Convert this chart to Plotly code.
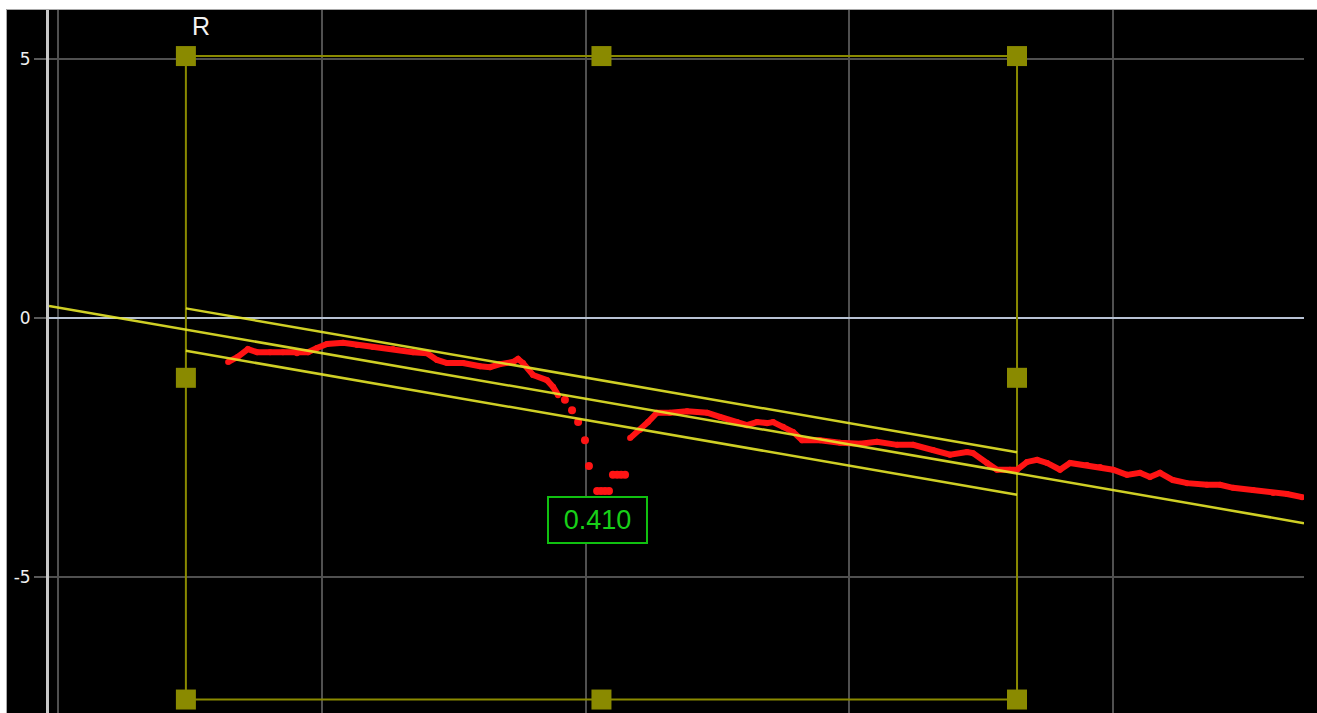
import plotly.graph_objects as go

# Measured signal: two continuous runs with a dropout between them
run1_x = [6.45, 6.82, 7.20, 7.55, 8.04, 8.53, 9.06, 9.48, 9.82, 10.20, 10.81, 11.34,
          11.94, 12.70, 13.46, 13.99, 14.37, 14.75, 15.36, 16.00, 16.38, 16.76, 17.25,
          17.44, 17.63, 18.01, 18.54, 18.77, 18.96]
run1_y = [-0.85, -0.75, -0.60, -0.66, -0.66, -0.66, -0.68, -0.66, -0.58, -0.50, -0.48, -0.52,
          -0.56, -0.60, -0.66, -0.68, -0.81, -0.87, -0.87, -0.93, -0.95, -0.89, -0.85,
          -0.79, -0.87, -1.10, -1.20, -1.33, -1.49]

dropout_x = [19.22, 19.49, 19.72, 19.98, 20.13,
             20.44, 20.59, 20.74, 20.89,
             21.04, 21.20, 21.35, 21.50]
dropout_y = [-1.58, -1.78, -2.01, -2.36, -2.86,
             -3.34, -3.34, -3.34, -3.34,
             -3.03, -3.03, -3.03, -3.03]

run2_x = [21.69, 22.07, 22.37, 22.71, 23.20, 23.85, 24.61, 25.10, 25.74, 26.12, 26.50, 26.88,
          27.11, 27.49, 27.87, 28.21, 28.89, 29.65, 30.41, 31.05, 31.81, 32.42, 33.18, 33.82,
          34.46, 34.69, 35.22, 35.60, 36.09, 36.36, 36.74, 37.12, 37.50, 37.99, 38.37, 39.01,
          39.51, 40.00, 40.53, 41.02, 41.40, 41.78, 42.27, 42.81, 43.56, 44.06, 44.55, 45.31,
          46.07, 46.60, 47.17]
run2_y = [-2.32, -2.16, -2.01, -1.83, -1.83, -1.80, -1.83, -1.91, -2.01, -2.07, -2.01, -2.03,
          -2.01, -2.10, -2.20, -2.36, -2.36, -2.41, -2.43, -2.39, -2.45, -2.45, -2.55, -2.64,
          -2.59, -2.61, -2.80, -2.93, -2.93, -2.93, -2.78, -2.74, -2.80, -2.93, -2.80, -2.84,
          -2.88, -2.93, -3.03, -2.99, -3.07, -2.99, -3.13, -3.19, -3.22, -3.22, -3.28, -3.32,
          -3.38, -3.40, -3.46]

# Linear fit and the band around it
fit_intercept = 0.204
fit_slope = -0.0882
band_half_width = 0.410

# Selection window "R"
window_x = [4.85, 36.36]
window_y = [-7.37, 5.06]

readout_text = "0.410"
readout_pos = (20.44, -3.90)

x_range = [-0.34, 47.24]
y_range = [-7.63, 5.95]
x_grid = [0, 10, 20, 30, 40]
y_ticks = [-5, 0, 5]

RED = "#ff1414"
YELLOW = "#e6e62a"
OLIVE = "#8a8a00"


def fit(x, offset=0.0):
    return fit_intercept + fit_slope * x + offset


fig = go.Figure()

# selection window frame
wx0, wx1 = window_x
wy0, wy1 = window_y
fig.add_trace(go.Scatter(
    x=[wx0, wx1, wx1, wx0, wx0], y=[wy1, wy1, wy0, wy0, wy1],
    mode="lines", line=dict(color=OLIVE, width=2), hoverinfo="skip"))

# signal
fig.add_trace(go.Scatter(x=run1_x, y=run1_y, mode="lines+markers",
                         line=dict(color=RED, width=6), marker=dict(color=RED, size=6)))
fig.add_trace(go.Scatter(x=dropout_x, y=dropout_y, mode="markers",
                         marker=dict(color=RED, size=8)))
fig.add_trace(go.Scatter(x=run2_x, y=run2_y, mode="lines+markers",
                         line=dict(color=RED, width=6), marker=dict(color=RED, size=6)))

# fit line across the whole view, band limited to the window
fig.add_trace(go.Scatter(x=x_range, y=[fit(v) for v in x_range], mode="lines",
                         line=dict(color=YELLOW, width=2.5), opacity=0.9))
for sign in (1, -1):
    fig.add_trace(go.Scatter(x=window_x, y=[fit(v, sign * band_half_width) for v in window_x],
                             mode="lines", line=dict(color=YELLOW, width=2.5), opacity=0.9))

# window handles: corners and edge midpoints
xm = (wx0 + wx1) / 2
ym = (wy0 + wy1) / 2
hx = [wx0, xm, wx1, wx0, wx1, wx0, xm, wx1]
hy = [wy1, wy1, wy1, ym, ym, wy0, wy0, wy0]
fig.add_trace(go.Scatter(x=hx, y=hy, mode="markers",
                         marker=dict(symbol="square", size=20, color=OLIVE,
                                     line=dict(width=0))))

fig.add_annotation(x=wx0, y=wy1, text="R", showarrow=False, xanchor="left", yanchor="bottom",
                   xshift=4, yshift=14, font=dict(family="Liberation Sans", size=25, color="#f2f2f2"))

fig.add_annotation(x=readout_pos[0], y=readout_pos[1], text=readout_text, showarrow=False,
                   font=dict(family="Liberation Sans", size=27, color="#18d018"),
                   bgcolor="#000000", bordercolor="#10c010", borderwidth=2, borderpad=0,
                   width=97, height=44)

# framing strips around the chart area
L, T, W, H = 49, 10, 1317, 713
pw, ph = 1304 - L, H - T
px = lambda v: (v - L) / pw
py = lambda v: (H - v) / ph
fig.add_shape(type="rect", xref="paper", yref="paper", x0=px(0), x1=px(W), y0=py(9), y1=py(0),
              fillcolor="white", line=dict(width=0), layer="above")
fig.add_shape(type="rect", xref="paper", yref="paper", x0=px(0), x1=px(6.5), y0=py(H), y1=py(0),
              fillcolor="white", line=dict(width=0), layer="above")
fig.add_shape(type="line", xref="paper", yref="paper", x0=px(6.5), x1=px(W), y0=py(9.5), y1=py(9.5),
              line=dict(color="#a8a8a8", width=1), layer="above")
fig.add_shape(type="line", xref="paper", yref="paper", x0=px(6.5), x1=px(6.5), y0=py(H), y1=py(9.5),
              line=dict(color="#a8a8a8", width=1), layer="above")

fig.update_layout(
    width=W, height=H,
    margin=dict(l=L, r=W - 1304, t=T, b=0),
    paper_bgcolor="#000000", plot_bgcolor="#000000",
    showlegend=False,
    xaxis=dict(range=x_range, tickvals=x_grid, showticklabels=False, showgrid=True,
               gridcolor="#505050", gridwidth=2, zeroline=False, showline=False, ticks=""),
    yaxis=dict(range=y_range, tickvals=y_ticks, ticktext=[str(v) for v in y_ticks],
               showgrid=True, gridcolor="#505050", gridwidth=2,
               zeroline=True, zerolinecolor="#b8c2d4", zerolinewidth=2,
               showline=True, linecolor="#c8c8c8", linewidth=3,
               ticks="outside", ticklen=12, tickcolor="#5a5a5a", tickwidth=2,
               tickfont=dict(family="DejaVu Sans", size=17, color="#f0f0f0")),
)

fig.write_html("out.html")
